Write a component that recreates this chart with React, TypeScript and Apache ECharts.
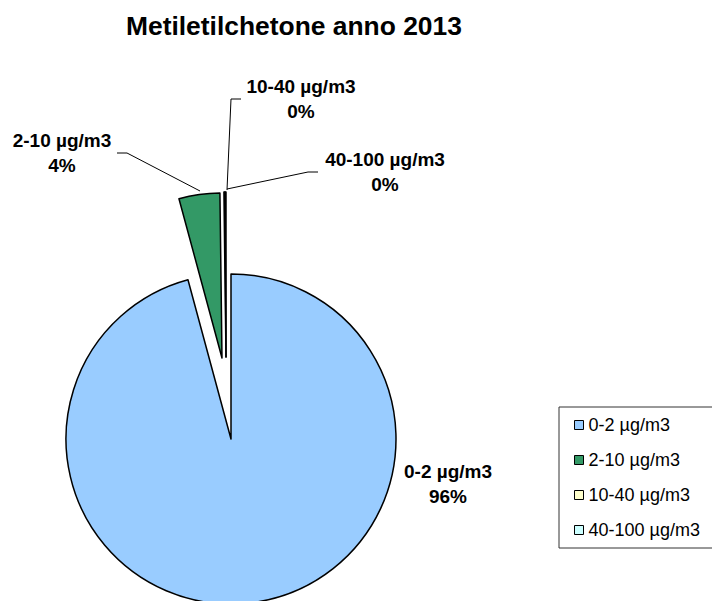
import React, { useEffect, useRef } from "react";
import * as echarts from "echarts";

const categories = ["0-2 µg/m3", "2-10 µg/m3", "10-40 µg/m3", "40-100 µg/m3"];
const values = [95.8, 4.0, 0.1, 0.1];
const colors = ["#99CCFF", "#339966", "#FFFFCC", "#CCFFFF"];
const titleText = "Metiletilchetone anno 2013";

// pie layers: which slices each layer draws, and where its centre sits (exploded slices)
const layerSlices: number[][] = [[0], [1], [2, 3]];
const layerCenters: [number, number][] = [
  [231, 439],
  [222, 358],
  [226, 357],
];
const RADIUS = 165;

// label annotation layout (pixel positions of label blocks and leader lines)
const labelPos: [number, number][] = [
  [448, 484],
  [62, 153],
  [301, 99],
  [385, 172],
];
const leaderLines: ([number, number][] | null)[] = [
  null,
  [[200, 191], [127, 153], [117, 153]],
  [[227, 190], [231, 99], [241, 99]],
  [[227, 189], [308, 172], [318, 172]],
];

const FONT = "'Liberation Sans', Arial, sans-serif";
const CLEAR = "rgba(0,0,0,0)";

export default function App() {
  const ref = useRef<HTMLDivElement>(null);
  useEffect(() => {
    if (!ref.current) return;
    const chart = echarts.init(ref.current, null, { renderer: "svg" });

    const series = layerSlices.map((visible, layer) => ({
      type: "pie",
      center: layerCenters[layer],
      radius: RADIUS,
      startAngle: 90,
      clockwise: true,
      avoidLabelOverlap: false,
      percentPrecision: 0,
      silent: true,
      selectedMode: false,
      emphasis: { disabled: true },
      label:
        layer === 0
          ? {
              show: true,
              formatter: "{b}\n{d}%",
              fontFamily: FONT,
              fontSize: 19,
              fontWeight: "bold",
              lineHeight: 25,
              color: "#000",
              align: "center",
            }
          : { show: false },
      labelLine:
        layer === 0
          ? { show: true, lineStyle: { color: "#000", width: 1 } }
          : { show: false },
      labelLayout:
        layer === 0
          ? (params: any) => {
              const i = params.dataIndex;
              const res: any = {
                x: labelPos[i][0],
                y: labelPos[i][1],
                align: "center",
                verticalAlign: "middle",
              };
              if (leaderLines[i]) res.labelLinePoints = leaderLines[i];
              return res;
            }
          : undefined,
      data: categories.map((name, i) => {
        const on = visible.indexOf(i) >= 0;
        return {
          name,
          value: values[i],
          itemStyle: on
            ? { color: colors[i], borderColor: "#000", borderWidth: 1.5 }
            : { color: CLEAR, borderColor: CLEAR, borderWidth: 0 },
          labelLine: {
            show: layer === 0 && leaderLines[i] !== null,
            lineStyle: { color: "#000", width: 1 },
          },
        };
      }),
    }));

    chart.setOption({
      animation: false,
      backgroundColor: "#ffffff",
      title: {
        text: titleText,
        left: 126,
        top: 11,
        padding: 0,
        textStyle: {
          fontFamily: FONT,
          fontSize: 26.4,
          fontWeight: "bold",
          color: "#000",
          lineHeight: 30,
        },
      },
      legend: {
        orient: "vertical",
        left: 559,
        top: 407,
        padding: [9, 30, 9, 15],
        itemGap: 17,
        itemWidth: 9,
        itemHeight: 9,
        icon: "rect",
        borderColor: "#333",
        borderWidth: 1,
        selectedMode: false,
        textStyle: {
          fontFamily: FONT,
          fontSize: 18,
          color: "#000",
          lineHeight: 18,
        },
        data: categories.map((name, i) => ({
          name,
          itemStyle: { color: colors[i], borderColor: "#000", borderWidth: 1 },
        })),
      },
      series,
    });
    return () => chart.dispose();
  }, []);
  return (
    <div
      ref={ref}
      style={{ position: "absolute", left: 0, top: 0, width: 712, height: 601 }}
    />
  );
}
